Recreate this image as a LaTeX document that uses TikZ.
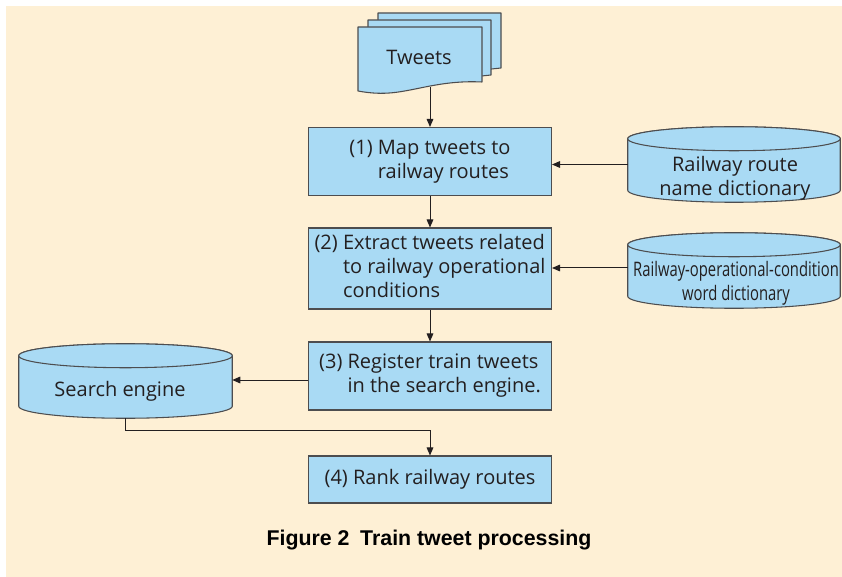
\documentclass[tikz,border=0pt]{standalone}
\usepackage{fontspec}
\setmainfont{Open Sans}
\newfontfamily\capfont{Liberation Sans}
\usetikzlibrary{arrows.meta,calc}
\definecolor{bg}{HTML}{FEF0D5}
\definecolor{boxblue}{HTML}{A9DAF4}
\definecolor{edge}{HTML}{4D4D4F}
\definecolor{ink}{HTML}{231F20}

% database drum drawn inside the bounds of a named (invisible) node
\newcommand\dbcylinder[1]{%
  \path[cylbody] let \p1=(#1.north west), \p2=(#1.south east), \n1={(\x2-\x1)/2} in
    (\x1,\y1-9pt) -- (\x1,\y2+9pt)
    arc[start angle=180,end angle=360,x radius=\n1,y radius=9pt]
    -- (\x2,\y1-9pt)
    arc[start angle=0,end angle=180,x radius=\n1,y radius=9pt] -- cycle;
  \path[cylbody] let \p1=(#1.north west), \p2=(#1.south east), \n1={(\x2-\x1)/2} in
    (\x1+\n1,\y1-9pt) ellipse[x radius=\n1,y radius=9pt];
}

\begin{document}
\begin{tikzpicture}[x=0.75pt,y=-0.75pt,
  every node/.style={text=ink, font=\fontsize{15}{18}\selectfont},
  stepbox/.style={draw=edge, line width=0.8pt, fill=boxblue, inner sep=0pt,
    minimum width=182.25pt},
  cylbody/.style={draw=edge, line width=0.8pt, fill=boxblue},
  dbframe/.style={draw=none, inner sep=0pt},
  doc/.style={draw=edge, line width=0.8pt, fill=boxblue, line join=round},
  arr/.style={draw=ink, line width=0.75pt, -{Triangle[length=6pt,width=5pt]}}]

% page background
\fill[white] (0,0) rectangle (842,577);
\fill[bg] (6,6) rectangle (842,577);
\useasboundingbox (0,0) rectangle (842,577);

% stack of tweet documents
\path[doc] (378,13) -- (501,13) -- (501,68) -- (482,70) -- (378,70) -- cycle;
\path[doc] (368,20) -- (491,20) -- (491,75) -- (472,77) -- (368,77) -- cycle;
\path[doc] (358,27) -- (482,27) -- (482,82)
  .. controls (462,81) and (445,83) .. (425,87)
  .. controls (400,92) and (385,96) .. (358,91) -- cycle;
\node (tweets) at (419,57) {Tweets};
\coordinate (twb) at (430,87);

% processing steps
\node[stepbox, minimum height=51pt] (b1) at (430,161.5)
  {\begin{tabular}{@{}l@{ }l@{}}(1)&Map tweets to\\&railway routes\end{tabular}};
\node[stepbox, minimum height=60.75pt] (b2) at (430,268.5)
  {\begin{tabular}{@{}l@{ }l@{}}(2)&Extract tweets related\\&to railway operational\\&conditions\end{tabular}};
\node[stepbox, minimum height=51pt] (b3) at (430,376)
  {\begin{tabular}{@{}l@{ }l@{}}(3)&Register train tweets\\&in the search engine.\end{tabular}};
\node[stepbox, minimum height=35.25pt] (b4) at (430,479.5) {(4) Rank railway routes};

% dictionaries and search engine
\node[dbframe, minimum width=159pt, minimum height=56.25pt] (d1) at (734,164.5) {};
\dbcylinder{d1}
\node[align=center] (d1t) at (735,178) {Railway route\\name dictionary};

\node[dbframe, minimum width=159pt, minimum height=56.25pt] (d2) at (734,270.5) {};
\dbcylinder{d2}
\node[align=center] (d2t) at (736,283)
  {\scalebox{0.74}[1]{Railway-operational-condition}\\\scalebox{0.74}[1]{word dictionary}};

\node[dbframe, minimum width=159.75pt, minimum height=55.5pt] (d3) at (125.5,381) {};
\dbcylinder{d3}
\node (d3t) at (120,391) {Search engine};

% connectors
\draw[arr] (twb) -- (twb |- b1.north);
\draw[arr] (b1.south) -- (b2.north);
\draw[arr] (b2.south) -- (b3.north);
\draw[arr] (d1.west) -- (d1.west -| b1.east);
\draw[arr] (d2.west |- 0,268) -- (b2.east |- 0,268);
\draw[arr] (b3.west |- 0,380) -- (d3.east |- 0,380);
\coordinate (elbow) at (430,430);
\draw[arr] (d3.south) |- (elbow) -- (b4.north);

% caption
\node[font=\capfont\bfseries\fontsize{16}{19}\selectfont, text=black] (cap) at (429,540)
  {Figure 2\hspace{0.5em}Train tweet processing};
\end{tikzpicture}
\end{document}
